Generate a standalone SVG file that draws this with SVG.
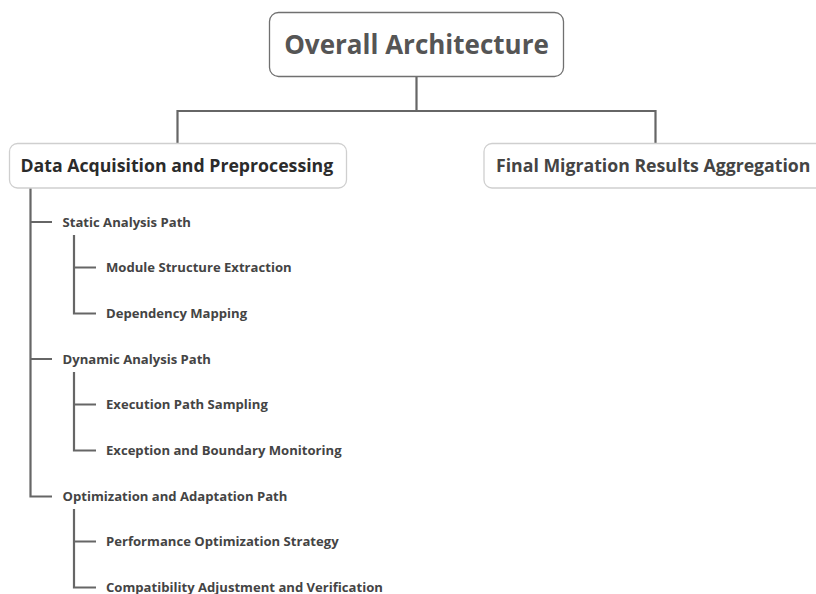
<svg xmlns="http://www.w3.org/2000/svg" width="816" height="594" viewBox="0 0 816 594">
<style>
.bg{fill:#ffffff}
.root{fill:#ffffff;stroke:#707070;stroke-width:1.3}
.main{fill:#ffffff;stroke:#cfcfcf;stroke-width:1.3}
.conn path{fill:none;stroke:#666666;stroke-width:2.2}
text{font-family:"Open Sans","Noto Sans","Liberation Sans",sans-serif;font-weight:bold}
.t0{font-size:26px;fill:#555555}
.t1{font-size:17.7px;fill:#2b2b2b}
.t1b{font-size:17.7px;fill:#444444}
.t2{font-size:13.1px;fill:#444444}
</style>
<rect class="bg" x="0" y="0" width="816" height="594"/>
<g id="connectors" class="conn">
<path d="M416.5 77 V111 M177.5 143 V111 H655.5 V143"/>
<path d="M30.5 188 V496.5 H52 M30.5 222 H52 M30.5 359 H52"/>
<path d="M74 235 V313.5 H96 M74 267.5 H96"/>
<path d="M74 372 V450.5 H96 M74 404.5 H96"/>
<path d="M74 509 V587.5 H96 M74 541.5 H96"/>
</g>
<g id="root">
<rect class="root" x="269.5" y="12.5" width="294" height="64" rx="9"/>
<text class="t0" x="416.5" y="54" text-anchor="middle">Overall Architecture</text>
</g>
<g id="data-acquisition">
<rect class="main" x="9.5" y="143.5" width="337" height="44.5" rx="8"/>
<text class="t1" x="20.5" y="172">Data Acquisition and Preprocessing</text>
</g>
<g id="final-migration">
<rect class="main" x="484" y="143.5" width="345" height="44.5" rx="8"/>
<text class="t1b" x="496" y="172">Final Migration Results Aggregation</text>
</g>
<g id="static-analysis"><text class="t2" x="62.5" y="226.5">Static Analysis Path</text></g>
<g id="module-structure"><text class="t2" x="106" y="272">Module Structure Extraction</text></g>
<g id="dependency-mapping"><text class="t2" x="106" y="318">Dependency Mapping</text></g>
<g id="dynamic-analysis"><text class="t2" x="62.5" y="363.5">Dynamic Analysis Path</text></g>
<g id="execution-path"><text class="t2" x="106" y="409">Execution Path Sampling</text></g>
<g id="exception-boundary"><text class="t2" x="106" y="455">Exception and Boundary Monitoring</text></g>
<g id="optimization-adaptation"><text class="t2" x="62.5" y="500.5">Optimization and Adaptation Path</text></g>
<g id="performance-optimization"><text class="t2" x="106" y="546">Performance Optimization Strategy</text></g>
<g id="compatibility-adjustment"><text class="t2" x="106" y="591.5">Compatibility Adjustment and Verification</text></g>
</svg>
